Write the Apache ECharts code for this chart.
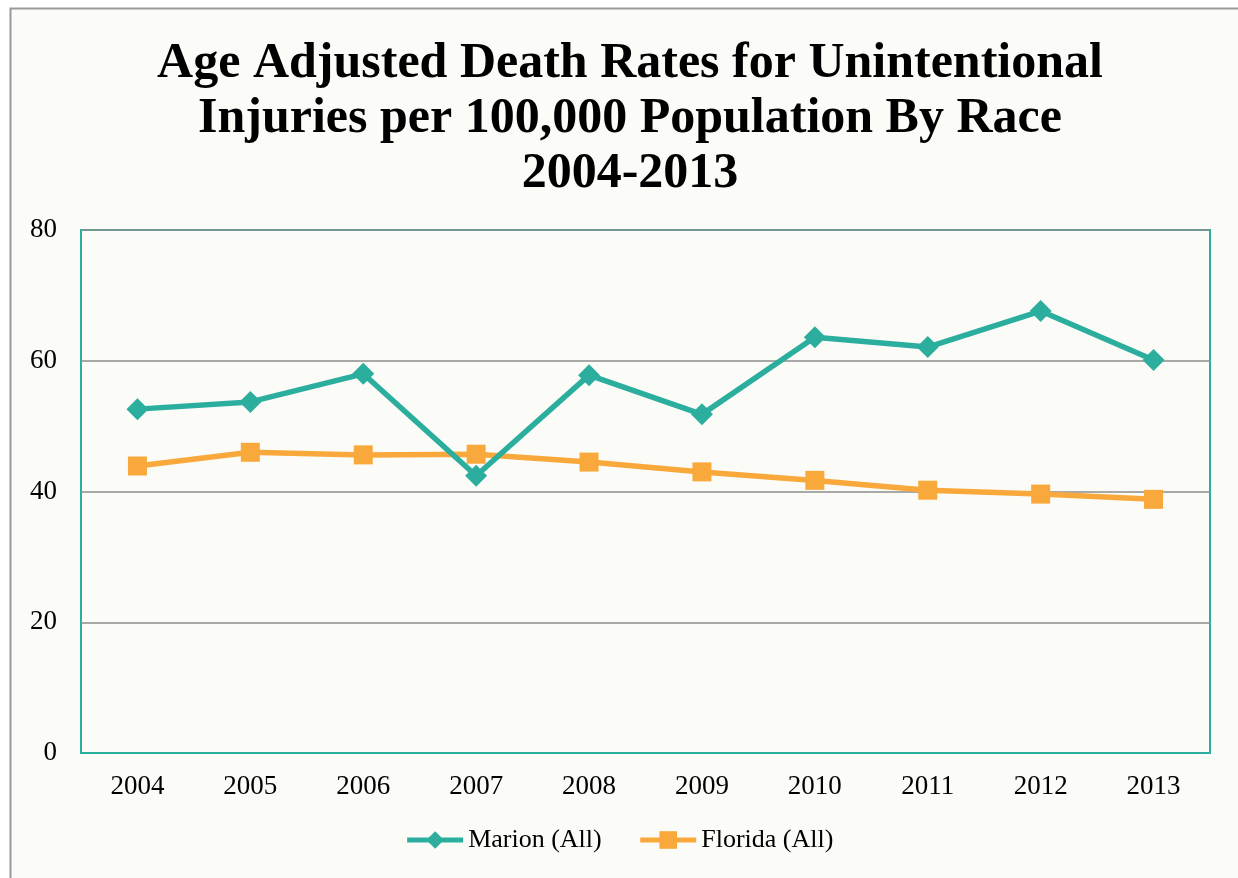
<!DOCTYPE html>
<html>
<head>
<meta charset="utf-8">
<script src="https://cdn.jsdelivr.net/npm/echarts@6/dist/echarts.min.js"></script>
<style>
  html, body { margin: 0; padding: 0; background: #ffffff; }
  #chart { width: 1238px; height: 878px; }
</style>
</head>
<body>
<div id="chart"></div>
<script>
const years = ['2004', '2005', '2006', '2007', '2008', '2009', '2010', '2011', '2012', '2013'];
const marion = [52.6, 53.7, 58.0, 42.4, 57.8, 51.8, 63.6, 62.1, 67.6, 60.1];
const florida = [43.9, 46.0, 45.6, 45.7, 44.5, 43.0, 41.7, 40.2, 39.6, 38.8];

const FONT = '"Liberation Serif", "DejaVu Serif", serif';
const TEAL = '#2cae9f';
const ORANGE = '#f9a93b';

const chart = echarts.init(document.getElementById('chart'), null, { renderer: 'canvas' });

chart.setOption({
    backgroundColor: '#ffffff',
    animation: false,
    graphic: [{
        type: 'rect',
        shape: { x: 10.5, y: 8.5, width: 1240, height: 880 },
        style: { fill: '#fbfbf7', stroke: '#999999', lineWidth: 2 },
        z: -10
    }],
    title: {
        text: 'Age Adjusted Death Rates for Unintentional\nInjuries per 100,000 Population By Race\n2004-2013',
        left: 625,
        top: 32,
        textAlign: 'center',
        textStyle: {
            fontFamily: FONT,
            fontWeight: 'bold',
            fontSize: 50,
            lineHeight: 55,
            color: '#000'
        }
    },
    legend: {
        bottom: 20,
        left: 'center',
        itemWidth: 56,
        itemHeight: 22,
        itemGap: 36,
        lineStyle: { width: 5 },
        textStyle: { fontFamily: FONT, fontSize: 26, color: '#000' },
        data: ['Marion (All)', 'Florida (All)']
    },
    grid: { left: 81, right: 28, top: 230, bottom: 125, show: true, borderColor: TEAL, borderWidth: 2, backgroundColor: 'transparent' },
    xAxis: {
        type: 'category',
        data: years,
        boundaryGap: true,
        axisLine: { show: true, lineStyle: { color: TEAL, width: 2 } },
        axisTick: { show: false },
        axisLabel: { fontFamily: FONT, fontSize: 27, color: '#000', margin: 20 }
    },
    yAxis: {
        type: 'value',
        min: 0,
        max: 80,
        interval: 20,
        axisLine: { show: false },
        axisTick: { show: false },
        splitLine: { lineStyle: { color: '#8c8c8c', width: 1.5 } },
        axisLabel: { fontFamily: FONT, fontSize: 27, color: '#000', margin: 24 }
    },
    series: [
        {
            name: 'Marion (All)',
            type: 'line',
            data: marion,
            symbol: 'diamond',
            symbolSize: 22,
            lineStyle: { color: TEAL, width: 5.5 },
            itemStyle: { color: TEAL },
            z: 3
        },
        {
            name: 'Florida (All)',
            type: 'line',
            data: florida,
            symbol: 'rect',
            symbolSize: 19,
            lineStyle: { color: ORANGE, width: 5.5 },
            itemStyle: { color: ORANGE },
            z: 2
        }
    ]
});
</script>
</body>
</html>
